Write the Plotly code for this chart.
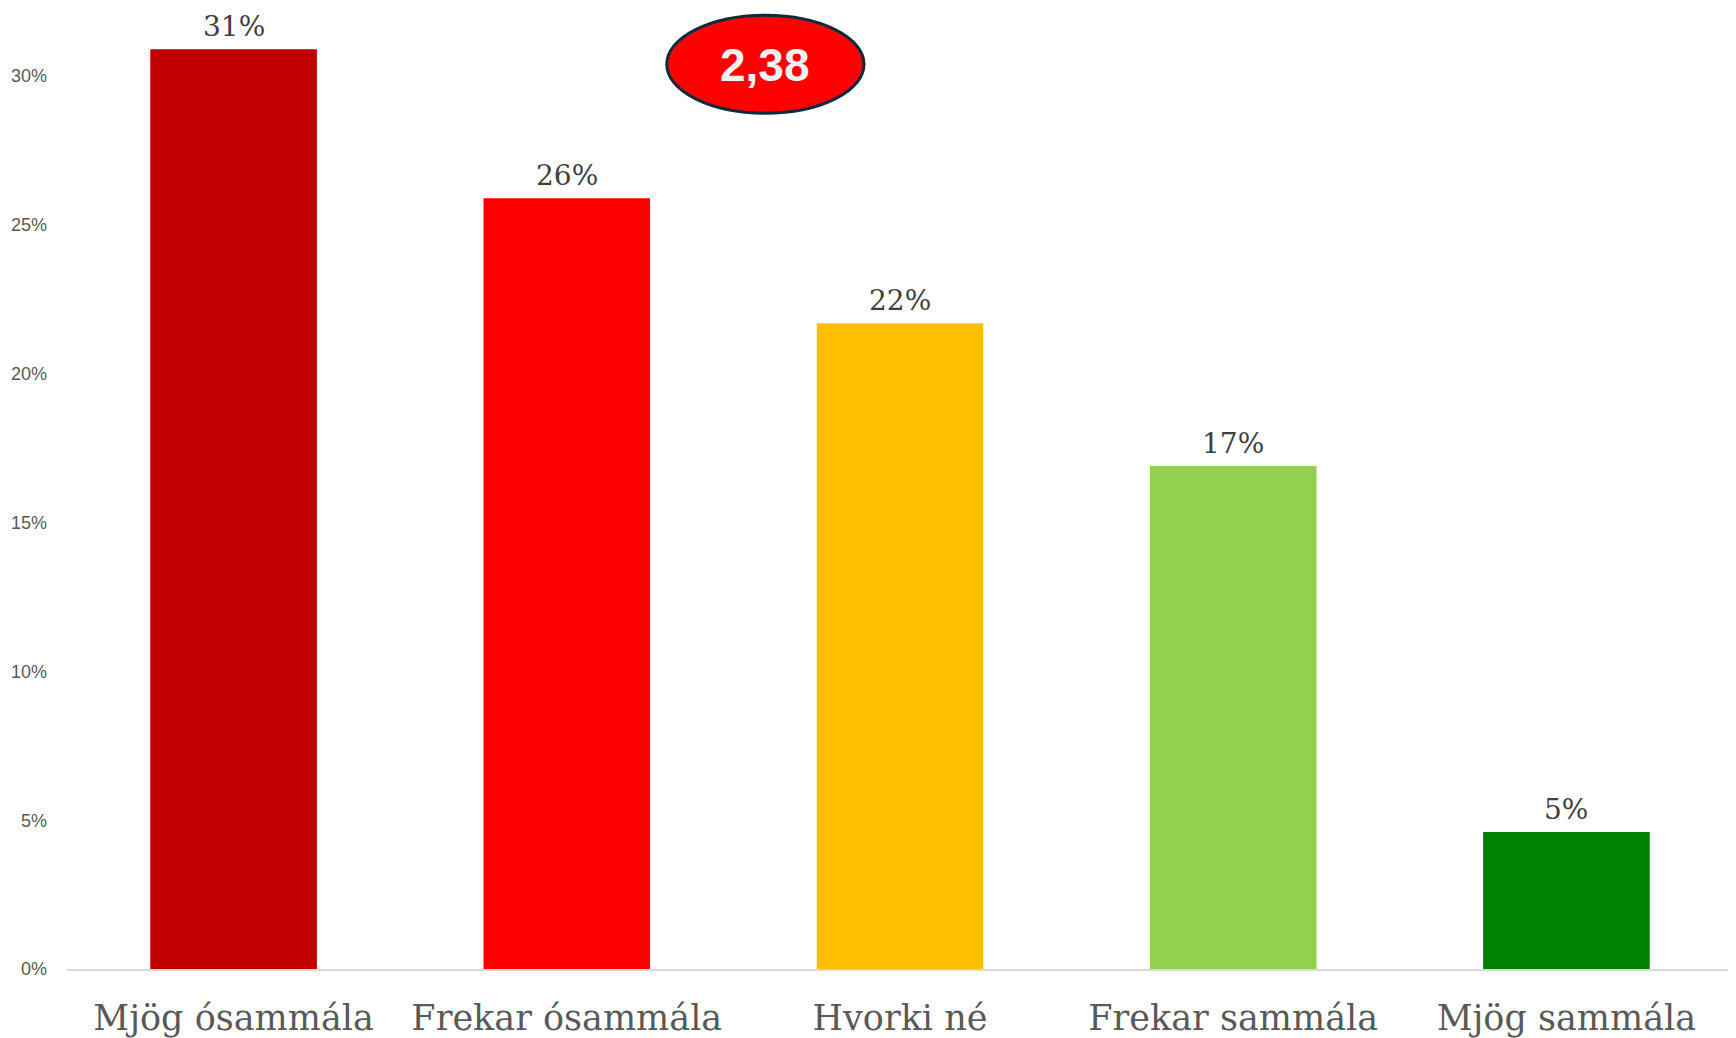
import plotly.graph_objects as go

categories = ["Mjög ósammála", "Frekar ósammála", "Hvorki né", "Frekar sammála", "Mjög sammála"]
values = [0.309, 0.259, 0.217, 0.169, 0.046]
labels = ["31%", "26%", "22%", "17%", "5%"]
colors = ["#C00000", "#FF0000", "#FFC000", "#92D050", "#008000"]
tick_vals = [0, 0.05, 0.10, 0.15, 0.20, 0.25, 0.30]
tick_text = ["0%", "5%", "10%", "15%", "20%", "25%", "30%"]
mean_score = "2,38"

fig = go.Figure()
fig.add_trace(go.Bar(
    x=categories, y=values, marker=dict(color=colors, line=dict(width=0)),
    width=0.5, hoverinfo="skip",
))

for c, v, t in zip(categories, values, labels):
    fig.add_annotation(x=c, y=v, text=t, showarrow=False, yanchor="bottom", yshift=5,
                       borderpad=0, font=dict(family="DejaVu Serif", size=28, color="#404040"))

fig.add_shape(type="circle", xref="paper", yref="paper",
              x0=0.36, x1=0.4784, y0=0.8905, y1=0.9925,
              fillcolor="#FF0000", line=dict(color="#0D2B3E", width=3), layer="above")
fig.add_annotation(xref="paper", yref="paper", x=0.4192, y=0.9405, text="<b>" + mean_score + "</b>",
                   xanchor="center", yanchor="middle", showarrow=False,
                   font=dict(family="Liberation Sans", size=46, color="#F2F2F2"))

fig.update_layout(
    width=1736, height=1038,
    margin=dict(l=59, r=11, t=0, b=77),
    paper_bgcolor="white", plot_bgcolor="white",
    showlegend=False, bargap=0.5,
    xaxis=dict(showgrid=False, showline=True, linecolor="#D9D9D9", linewidth=2,
               tickfont=dict(family="DejaVu Serif", size=35, color="#595959"),
               ticks="", ticklabelstandoff=17),
    yaxis=dict(range=[0, 0.3229], showgrid=False, zeroline=False, showline=False,
               tickvals=tick_vals, ticktext=tick_text,
               tickfont=dict(family="Liberation Sans", size=18, color="#595959"),
               ticklabelstandoff=19),
)

fig.write_html("out.html")
